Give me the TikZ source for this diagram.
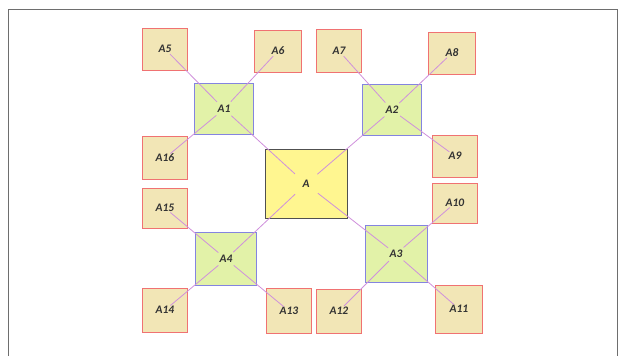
\documentclass[tikz,border=0pt]{standalone}
\usepackage{fontspec}
\setmainfont{Carlito}
\usetikzlibrary{positioning}
\definecolor{Leaf}{HTML}{F2E6B6}
\definecolor{LeafLine}{HTML}{F07272}
\definecolor{Hub}{HTML}{E2F2A8}
\definecolor{HubLine}{HTML}{8484E0}
\definecolor{Core}{HTML}{FFF690}
\definecolor{CoreLine}{HTML}{505050}
\definecolor{Link}{HTML}{CF90DC}
\definecolor{Frame}{HTML}{6E6E6E}
\tikzset{
  leafbox/.style={draw=LeafLine,fill=Leaf,line width=1pt,inner sep=0pt,minimum width=45pt,minimum height=42pt,font=\fontsize{11.5}{13}\selectfont\bfseries\itshape,text=black!80},
  hubbox/.style={draw=HubLine,fill=Hub,line width=0.9pt,inner sep=0pt,minimum width=59pt,minimum height=51pt,font=\fontsize{11.5}{13}\selectfont\bfseries\itshape,text=black!80},
  corebox/.style={draw=CoreLine,fill=Core,line width=1pt,inner sep=0pt,minimum width=82pt,minimum height=69pt,font=\fontsize{11.5}{13}\selectfont\bfseries\itshape,text=black!80},
  link/.style={draw=Link,line width=0.8pt,shorten <=7pt,shorten >=10pt},
  corelink/.style={draw=Link,line width=0.8pt,shorten <=15pt,shorten >=10pt}
}
\begin{document}
\begin{tikzpicture}[x=1pt,y=-1pt]
  \useasboundingbox (0,0) rectangle (618,356);
  \draw[Frame,line width=1pt] (8,356) -- (8,9) -- (617,9) -- (617,356);
  % centre and hubs
  \node[corebox] (a) at (306,184) {A};
  \node[hubbox] (a1) at (224,109) {A1};
  \node[hubbox] (a2) at (392,110) {A2};
  \node[hubbox,minimum width=62pt,minimum height=57pt] (a3) at (396,254) {A3};
  \node[hubbox,minimum width=61pt,minimum height=53pt] (a4) at (226,259) {A4};
  % outer boxes
  \node[leafbox] (a5) at (165,49) {A5};
  \node[leafbox,minimum width=47pt] (a6) at (278,51) {A6};
  \node[leafbox,minimum height=43pt] (a7) at (339,51) {A7};
  \node[leafbox,minimum width=47pt] (a8) at (452,53) {A8};
  \node[leafbox] (a9) at (455,156) {A9};
  \node[leafbox,minimum height=40pt] (a10) at (455,203) {A10};
  \node[leafbox,minimum width=47pt,minimum height=48pt] (a11) at (459,309) {A11};
  \node[leafbox,minimum height=44pt] (a12) at (339,311) {A12};
  \node[leafbox,minimum height=45pt] (a13) at (289,311) {A13};
  \node[leafbox,minimum height=44pt] (a14) at (165,310) {A14};
  \node[leafbox,minimum height=40pt] (a15) at (165,208) {A15};
  \node[leafbox,minimum height=43pt] (a16) at (165,158) {A16};
  % connectors
  \foreach \hub in {a1,a2,a3,a4}
    \draw[corelink] (a.center) -- (\hub.center);
  \foreach \leaf/\hub in {a5/a1,a6/a1,a16/a1,a7/a2,a8/a2,a9/a2,a10/a3,a11/a3,a12/a3,a13/a4,a14/a4,a15/a4}
    \draw[link] (\leaf.center) -- (\hub.center);
\end{tikzpicture}
\end{document}
